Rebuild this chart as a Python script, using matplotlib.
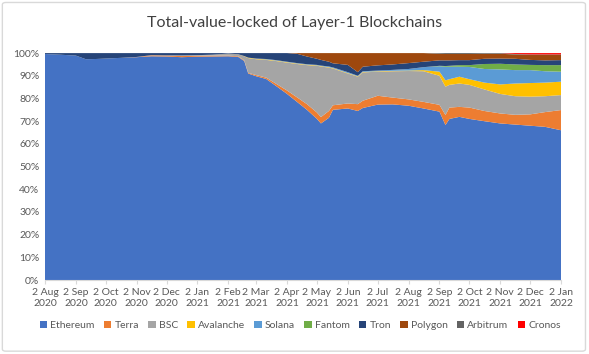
"""Total-value-locked share of Layer-1 blockchains (100% stacked area)."""

import matplotlib

matplotlib.use("Agg")
import matplotlib.pyplot as plt
import numpy as np
import pandas as pd
from matplotlib.patches import FancyBboxPatch, Patch

plt.rcParams["font.family"] = ["Lato", "DejaVu Sans"]

# dates sampled from the chart (roughly twice a month, plus a few turning points)
dates = pd.to_datetime([
    "2020-08-02", "2020-08-17", "2020-09-02", "2020-09-12", "2020-09-22",
    "2020-10-02", "2020-10-17", "2020-11-02", "2020-11-17", "2020-12-02",
    "2020-12-17", "2021-01-02", "2021-01-17", "2021-02-02", "2021-02-12",
    "2021-02-18", "2021-02-22", "2021-03-02", "2021-03-12", "2021-03-22",
    "2021-04-02", "2021-04-12", "2021-04-22", "2021-05-02", "2021-05-06",
    "2021-05-14", "2021-05-18", "2021-06-02", "2021-06-12", "2021-06-17",
    "2021-07-02", "2021-07-17", "2021-08-02", "2021-08-17", "2021-09-02",
    "2021-09-08", "2021-09-12", "2021-09-22", "2021-10-02", "2021-10-17",
    "2021-11-02", "2021-11-17", "2021-12-02", "2021-12-17", "2022-01-02",
])

# share of TVL in percent
ethereum = [
    99.6, 99.3, 98.9, 97.3, 97.4, 97.6, 97.9, 98.2, 98.6, 98.5,
    98.2, 98.4, 98.5, 98.6, 98.3, 96.5, 91.0, 89.8, 88.6, 85.5,
    82.0, 78.5, 75.0, 71.0, 69.0, 71.5, 75.0, 75.6, 74.5, 75.8,
    77.3, 77.4, 76.8, 75.6, 74.2, 68.3, 71.0, 71.9, 71.0, 70.0,
    69.0, 68.5, 68.0, 67.5, 66.0,
]
terra = [
    0, 0, 0, 0, 0, 0, 0, 0.1, 0.4, 0.4,
    0.5, 0.4, 0.4, 0.3, 0.3, 0.3, 0.3, 0.5, 0.6, 1.0,
    1.5, 2.0, 2.5, 2.8, 2.8, 3.0, 2.0, 2.2, 3.0, 3.2,
    3.9, 3.0, 2.8, 2.9, 3.0, 4.4, 5.0, 4.4, 5.0, 4.5,
    4.4, 4.3, 5.0, 6.5, 8.9,
]
bsc = [
    0, 0, 0, 0, 0, 0, 0, 0, 0.1, 0.1,
    0.3, 0.3, 0.4, 0.9, 0.9, 1.8, 6.5, 7.0, 7.8, 10.0,
    12.3, 14.7, 17.2, 20.6, 22.3, 19.1, 16.2, 13.2, 12.1, 12.5,
    10.6, 11.6, 12.5, 13.5, 12.8, 12.5, 10.0, 10.3, 10.0, 9.5,
    8.6, 8.2, 7.8, 7.0, 6.6,
]
avalanche = [
    0, 0, 0, 0, 0, 0, 0, 0, 0, 0,
    0, 0, 0, 0, 0, 0.1, 0.2, 0.2, 0.2, 0.2,
    0.2, 0.2, 0.2, 0.2, 0.2, 0.2, 0.2, 0.2, 0.2, 0.2,
    0.2, 0.2, 0.2, 0.5, 1.8, 2.8, 2.5, 3.0, 2.5, 3.0,
    4.2, 5.6, 6.0, 6.0, 5.9,
]
solana = [
    0, 0, 0, 0, 0, 0, 0, 0, 0, 0,
    0, 0, 0, 0, 0, 0, 0, 0.1, 0.2, 0.2,
    0.2, 0.2, 0.2, 0.2, 0.2, 0.3, 0.3, 0.4, 0.2, 0.3,
    0.3, 0.4, 0.7, 1.3, 2.4, 6.0, 5.5, 4.4, 5.4, 6.0,
    6.6, 5.9, 5.7, 5.0, 4.4,
]
fantom = [
    0, 0, 0, 0, 0, 0, 0, 0, 0, 0,
    0, 0, 0, 0, 0, 0, 0, 0, 0, 0,
    0, 0, 0, 0, 0, 0, 0, 0, 0, 0,
    0, 0, 0, 0, 0.2, 0.3, 0.4, 0.7, 0.8, 2.2,
    2.5, 2.5, 2.3, 2.7, 2.9,
]
tron = [
    0.4, 0.7, 1.1, 2.7, 2.6, 2.4, 2.1, 1.7, 0.9, 1.0,
    1.0, 0.9, 0.7, 0.2, 0.5, 1.3, 2.0, 2.4, 2.6, 3.1,
    3.8, 4.1, 3.4, 2.7, 2.5, 2.1, 1.8, 3.2, 1.6, 2.0,
    2.3, 2.4, 2.6, 2.4, 2.4, 2.5, 2.4, 2.2, 2.2, 2.3,
    2.3, 2.5, 2.2, 2.1, 2.2,
]
polygon = [
    0, 0, 0, 0, 0, 0, 0, 0, 0, 0,
    0, 0, 0, 0, 0, 0, 0, 0, 0, 0,
    0, 0.3, 1.5, 2.5, 3.0, 3.8, 4.5, 5.2, 8.4, 6.0,
    5.4, 5.0, 4.4, 3.8, 2.9, 2.8, 2.8, 2.7, 2.7, 2.2,
    2.1, 1.9, 2.2, 2.4, 2.3,
]
arbitrum = [
    0, 0, 0, 0, 0, 0, 0, 0, 0, 0,
    0, 0, 0, 0, 0, 0, 0, 0, 0, 0,
    0, 0, 0, 0, 0, 0, 0, 0, 0, 0,
    0, 0, 0, 0, 0.3, 0.4, 0.4, 0.4, 0.4, 0.3,
    0.3, 0.2, 0.2, 0.2, 0.2,
]
cronos = [
    0, 0, 0, 0, 0, 0, 0, 0, 0, 0,
    0, 0, 0, 0, 0, 0, 0, 0, 0, 0,
    0, 0, 0, 0, 0, 0, 0, 0, 0, 0,
    0, 0, 0, 0, 0, 0, 0, 0, 0, 0,
    0, 0.4, 0.6, 0.6, 0.6,
]

chains = ["Ethereum", "Terra", "BSC", "Avalanche", "Solana",
          "Fantom", "Tron", "Polygon", "Arbitrum", "Cronos"]
colors = ["#4472C4", "#ED7D31", "#A5A5A5", "#FFC000", "#5B9BD5",
          "#70AD47", "#264478", "#9E480E", "#636363", "#FF0000"]

series = np.array([ethereum, terra, bsc, avalanche, solana,
                   fantom, tron, polygon, arbitrum, cronos], dtype=float)
shares = series / series.sum(axis=0)

fig = plt.figure(figsize=(5.89, 3.54), dpi=100)
ax = fig.add_axes([0.0764, 0.209, 0.8761, 0.641])

ax.stackplot(dates, shares, colors=colors, linewidth=0)

ax.set_xlim(dates[0], dates[-1])
ax.set_ylim(0, 1)
ax.set_yticks(np.arange(0, 1.01, 0.1))
ax.set_yticklabels([f"{int(round(v * 100))}%" for v in np.arange(0, 1.01, 0.1)])

month_ticks = pd.date_range("2020-08-01", "2022-01-01", freq="MS") + pd.Timedelta(days=1)
ax.set_xticks(month_ticks)
ax.set_xticklabels([f"{d.day} {d.strftime('%b')}\n{d.year}" for d in month_ticks])

ax.tick_params(axis="y", length=0, labelsize=7.5, colors="#595959", pad=4)
ax.tick_params(axis="x", length=3, color="#d9d9d9", labelsize=7.5,
               labelcolor="#595959", pad=3)
for side in ["top", "right", "left"]:
    ax.spines[side].set_visible(False)
ax.spines["bottom"].set_color("#d9d9d9")

fig.text(0.5, 0.935, "Total-value-locked of Layer-1 Blockchains",
         ha="center", va="center", fontsize=11.5, color="#404040")

handles = [Patch(facecolor=c, edgecolor="none") for c in colors]
fig.legend(handles, chains, loc="center", bbox_to_anchor=(0.51, 0.08), ncol=10,
           frameon=False, fontsize=7.5, handlelength=0.7, handleheight=0.7,
           handletextpad=0.3, columnspacing=0.9, labelcolor="#595959")

border = FancyBboxPatch((0.004, 0.008), 0.99, 0.985, transform=fig.transFigure,
                        boxstyle="round,pad=0,rounding_size=0.006",
                        facecolor="none", edgecolor="#d9d9d9", linewidth=1.0)
fig.patches.append(border)

fig.savefig("out.png", dpi=100)
